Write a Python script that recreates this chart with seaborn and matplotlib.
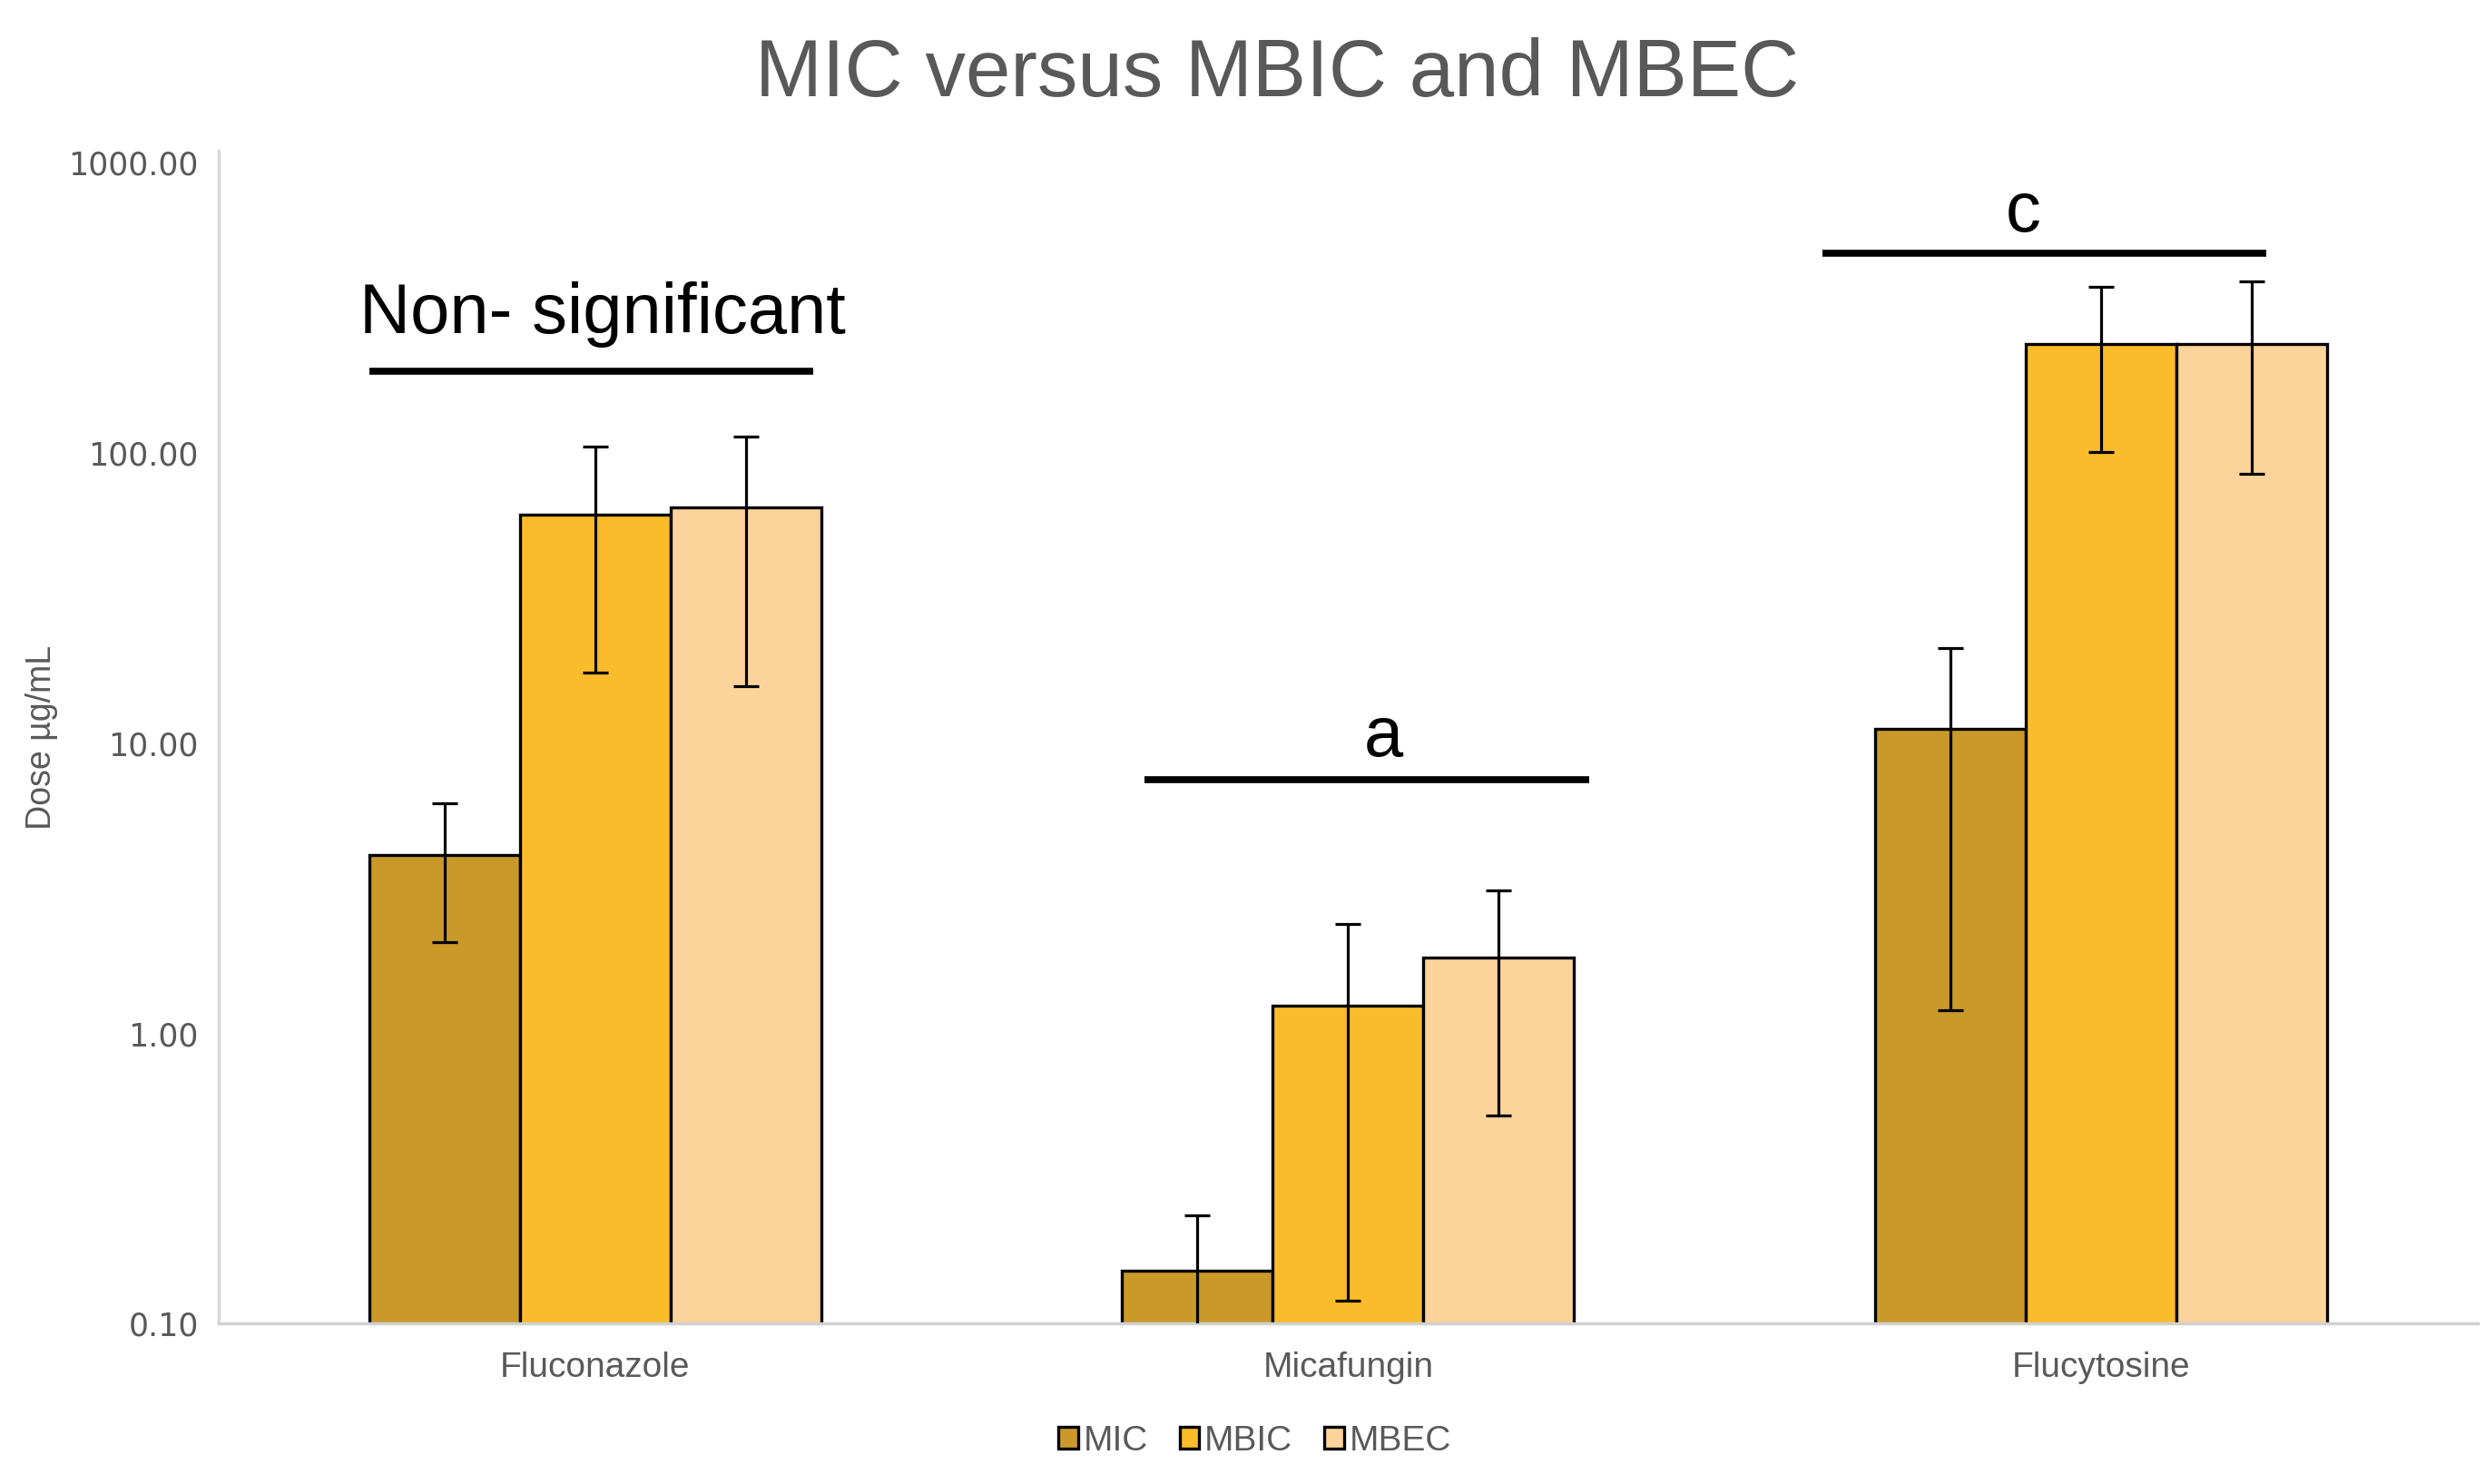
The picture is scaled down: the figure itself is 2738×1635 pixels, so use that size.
import matplotlib
matplotlib.use("Agg")
import matplotlib.pyplot as plt
import numpy as np
import pandas as pd
import seaborn as sns
from matplotlib.ticker import FixedLocator, FixedFormatter, NullLocator

# dados (ug/mL)
farmacos = ["Fluconazole", "Micafungin", "Flucytosine"]
medidas = ["MIC", "MBIC", "MBEC"]
mic = [4.13, 0.152, 11.2]
mbic = [61.5, 1.25, 237.0]
mbec = [64.7, 1.82, 237.0]
mic_err = [2.07, 0.084, 10.0]
mbic_err = [44.0, 1.13, 136.0]
mbec_err = [49.0, 1.30, 152.0]
cores = ["#C9992A", "#FBBC2B", "#FDD39C"]

# anotacoes de significancia: texto, barra (x inicial/final, y), posicao do texto
anot_texto = ["Non- significant", "a", "c"]
anot_x0 = [-0.30, 0.73, 1.63]
anot_x1 = [0.29, 1.32, 2.22]
anot_y = [191, 7.5, 488]
anot_x_txt = [0.01, 1.047, 1.897]
anot_y_txt = [300, 10.5, 670]

yticks = [0.1, 1, 10, 100, 1000]

df = pd.DataFrame({
    "farmaco": np.repeat(farmacos, 3),
    "medida": medidas * 3,
    "valor": [v for trio in zip(mic, mbic, mbec) for v in trio],
    "erro": [v for trio in zip(mic_err, mbic_err, mbec_err) for v in trio],
})

sns.set_style("white")
plt.rcParams["font.family"] = ["Liberation Sans", "DejaVu Sans"]

fig = plt.figure(figsize=(27.38, 16.35), dpi=100)
ax = fig.add_axes([0.088, 0.108, 0.909, 0.7905])
ax.set_yscale("log")

sns.barplot(
    data=df, x="farmaco", y="valor", hue="medida",
    order=farmacos, hue_order=medidas, palette=cores, saturation=1,
    errorbar=None, width=0.6, edgecolor="black", linewidth=2.4,
    ax=ax,
)

# barras de erro no centro de cada barra
for i, med in enumerate(medidas):
    cont = ax.containers[i]
    sub = df[df["medida"] == med].set_index("farmaco").loc[farmacos]
    xs = [p.get_x() + p.get_width() / 2 for p in cont.patches]
    ax.errorbar(xs, sub["valor"], yerr=sub["erro"], fmt="none",
                ecolor="black", elinewidth=2.3, capsize=10, capthick=2.3,
                zorder=5)

ax.set_ylim(0.1, 1100)
ax.set_xlim(-0.5, 2.5)
ax.yaxis.set_major_locator(FixedLocator(yticks))
ax.yaxis.set_major_formatter(FixedFormatter([f"{t:.2f}" for t in yticks]))
ax.yaxis.set_minor_locator(NullLocator())

for lado in ["top", "right"]:
    ax.spines[lado].set_visible(False)
ax.spines["left"].set_color("#d9d9d9")
ax.spines["left"].set_linewidth(2.5)
ax.spines["bottom"].set_color("#d0d0d0")
ax.spines["bottom"].set_linewidth(2.5)

ax.tick_params(axis="y", direction="in", length=20, width=2, color="#d9d9d9",
               labelsize=25, labelcolor="#595959", pad=16)
ax.tick_params(axis="x", length=0, labelsize=28, labelcolor="#595959", pad=22)
for t in ax.get_yticklabels():
    t.set_family("DejaVu Sans")

ax.set_xlabel("")
ax.set_ylabel("Dose µg/mL", fontsize=27, color="#595959", labelpad=8,
              family=["Liberation Sans Narrow", "Liberation Sans"])

for txt, x0, x1, yl, xt, yt in zip(anot_texto, anot_x0, anot_x1, anot_y,
                                   anot_x_txt, anot_y_txt):
    ax.plot([x0, x1], [yl, yl], color="black", linewidth=5.5,
            solid_capstyle="butt", clip_on=False)
    ax.text(xt, yt, txt, ha="center", va="center", fontsize=56, color="black")

fig.suptitle("MIC versus MBIC and MBEC", x=0.514, y=0.975, fontsize=64,
             color="#595959")

ax.legend_.remove()
handles, labels = ax.get_legend_handles_labels()
fig.legend(handles, labels, loc="center", bbox_to_anchor=(0.505, 0.029),
           ncol=3, frameon=False, fontsize=28, handlelength=0.55,
           handleheight=0.55, handletextpad=0.15, columnspacing=0.9,
           labelcolor="#595959")

fig.savefig("out.png", dpi=100)
